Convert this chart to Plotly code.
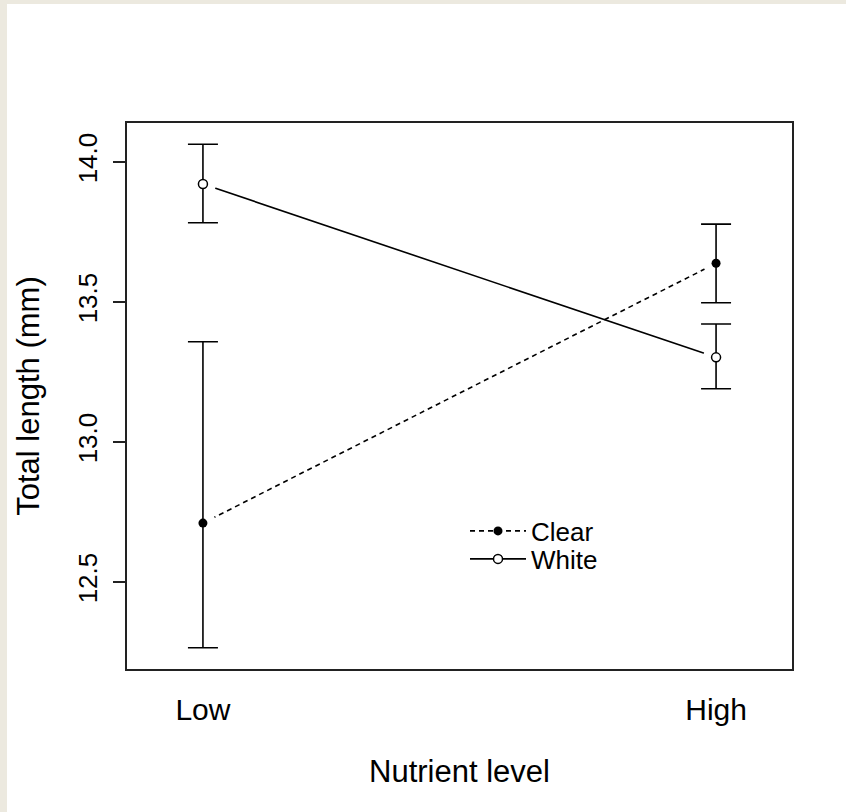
import plotly.graph_objects as go

levels = ["Low", "High"]
x_pos = [1, 2]

clear_mean = [12.71, 13.638]
clear_hi = [13.358, 13.778]
clear_lo = [12.265, 13.497]

white_mean = [13.921, 13.302]
white_hi = [14.063, 13.421]
white_lo = [13.783, 13.19]

y_ticks = [12.5, 13.0, 13.5, 14.0]
y_ticktext = ["12.5", "13.0", "13.5", "14.0"]

FONT = "Liberation Sans, Arial, sans-serif"
fs_title = 31
fs_xtick = 30
fs_ytick = 26
fs_leg = 26

def err(hi, mean, lo):
    return [h - m for h, m in zip(hi, mean)], [m - l for m, l in zip(mean, lo)]

c_plus, c_minus = err(clear_hi, clear_mean, clear_lo)
w_plus, w_minus = err(white_hi, white_mean, white_lo)

fig = go.Figure()
fig.add_trace(go.Scatter(x=x_pos, y=clear_mean, mode="lines+markers", name="Clear",
                         legend="legend",
                         line=dict(color="black", width=1.6, dash="5px,4px"),
                         marker=dict(symbol="circle", size=9, color="black")))
fig.add_trace(go.Scatter(x=x_pos, y=white_mean, mode="lines+markers", name="White",
                         legend="legend2",
                         line=dict(color="black", width=1.6),
                         marker=dict(symbol="circle", size=9, color="white",
                                     line=dict(color="black", width=1.5))))
# white covers to leave gaps between lines and points
fig.add_trace(go.Scatter(x=x_pos + x_pos, y=clear_mean + white_mean, mode="markers",
                         showlegend=False, hoverinfo="skip",
                         marker=dict(size=26, color="white", line=dict(width=0))))
fig.add_trace(go.Scatter(x=x_pos, y=clear_mean, mode="markers", showlegend=False,
                         marker=dict(symbol="circle", size=9, color="black"),
                         error_y=dict(type="data", symmetric=False, array=c_plus,
                                      arrayminus=c_minus, color="black",
                                      thickness=1.6, width=15)))
fig.add_trace(go.Scatter(x=x_pos, y=white_mean, mode="markers", showlegend=False,
                         marker=dict(symbol="circle", size=9, color="white",
                                     line=dict(color="black", width=1.5)),
                         error_y=dict(type="data", symmetric=False, array=w_plus,
                                      arrayminus=w_minus, color="black",
                                      thickness=1.6, width=15)))

L, R, T, B = 127, 54, 123, 143
W, H = 846, 812
pw, ph = W - L - R, H - T - B

def px_x(p):
    return (p - L) / pw

def px_y(p):
    return (H - B - p) / ph

fig.add_shape(type="rect", xref="paper", yref="paper",
              x0=px_x(7), x1=px_x(W + 5), y0=px_y(H + 5), y1=px_y(4),
              fillcolor="white", line=dict(width=0), layer="below")

leg_common = dict(xanchor="left", yanchor="middle", bgcolor="rgba(0,0,0,0)",
                  font=dict(size=fs_leg), itemwidth=56)

fig.update_layout(
    width=W, height=H,
    margin=dict(l=L, r=R, t=T, b=B, pad=0),
    paper_bgcolor="#ece9df", plot_bgcolor="white",
    font=dict(family=FONT, size=fs_title, color="black"),
    legend=dict(x=px_x(465), y=px_y(531), **leg_common),
    legend2=dict(x=px_x(465), y=px_y(559), **leg_common),
    xaxis=dict(range=[0.852, 2.148], tickvals=x_pos, ticktext=levels, ticks="",
               showline=True, mirror=True, linecolor="#222", linewidth=1.5,
               showgrid=False, zeroline=False, ticklabelstandoff=13,
               title=dict(text="Nutrient level", standoff=36, font=dict(size=fs_title)),
               tickfont=dict(size=fs_xtick), automargin=False),
    yaxis=dict(range=[12.189, 14.139], tickvals=y_ticks, ticktext=y_ticktext,
               ticks="outside", ticklen=12, tickwidth=1.5, tickcolor="#222",
               tickangle=-90, showline=True, mirror=True, linecolor="#222",
               linewidth=1.5, showgrid=False, zeroline=False, ticklabelstandoff=6,
               title=dict(text="Total length (mm)", standoff=24, font=dict(size=fs_title)),
               tickfont=dict(size=fs_ytick), automargin=False),
)

fig.write_html("out.html")
